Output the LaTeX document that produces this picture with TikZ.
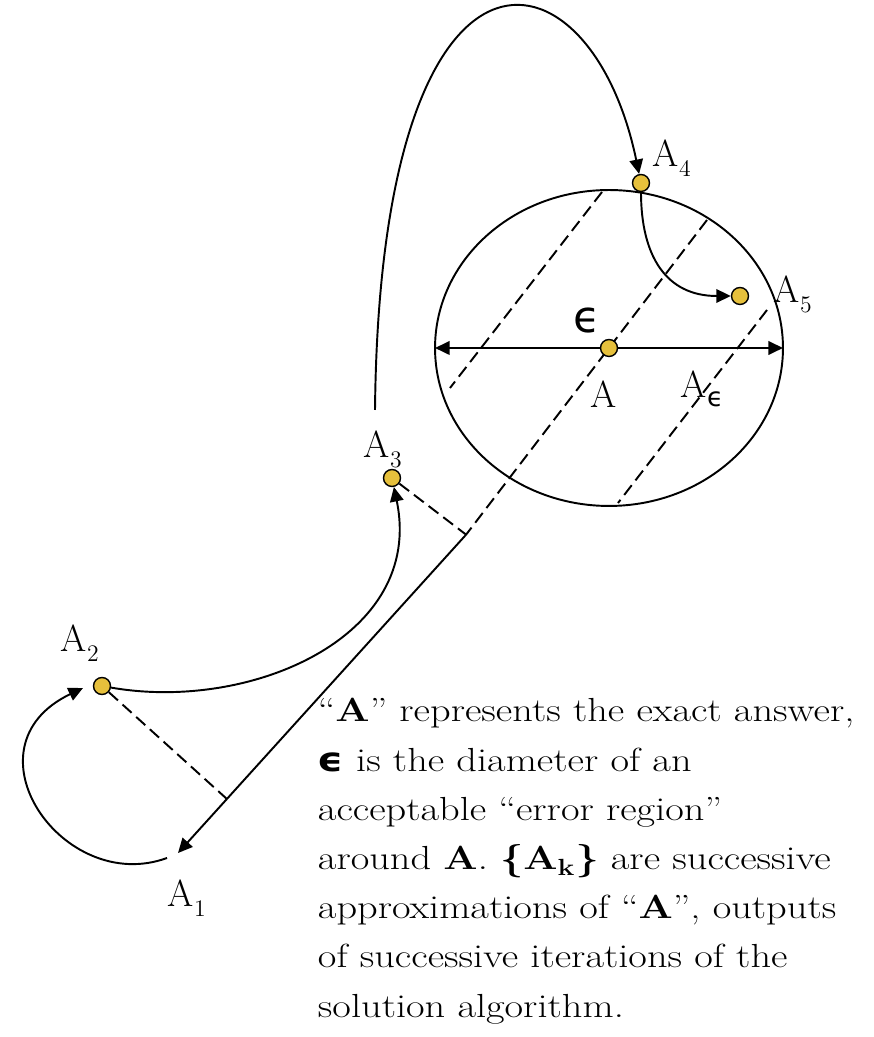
\documentclass[tikz,border=0pt]{standalone}
\usepackage{fontspec}
\usepackage{graphicx}
\usetikzlibrary{arrows.meta}
\usetikzlibrary{shapes.geometric}
\usetikzlibrary{positioning}
\usetikzlibrary{calc}

\newfontfamily\epsfont{DejaVu Sans}
\definecolor{dotgold}{RGB}{230,192,60}
\newcommand{\lowsub}[1]{\raisebox{-0.2cm}{\fontsize{13.5}{13.5}\selectfont #1}}

\begin{document}
\begin{tikzpicture}[x=0.02cm, y=0.02cm, line width=1.1pt,
    dot/.style={circle, draw=black, line width=0.8pt, fill=dotgold, inner sep=0pt, minimum size=0.34cm},
    lbl/.style={inner sep=0pt, anchor=base west, font=\fontsize{21.5}{24}\selectfont},
    para/.style={inner sep=0pt, anchor=base west, font=\fontsize{19}{28}\selectfont},
    arr/.style={-{Triangle[length=0.29cm, width=0.27cm]}},
    dsh/.style={dash pattern=on 7pt off 3.5pt}]

        \useasboundingbox (0,0) rectangle (873,1037);

        % Points that the lines need
        \coordinate (Actr) at (609,689);
        \coordinate (M1) at (707,817);
        \coordinate (L1) at (602,845);
        \coordinate (L2) at (450,649);
        \coordinate (R1) at (767,727);
        \coordinate (R2) at (618,534);
        \coordinate (A1) at (178,184);
        \coordinate (S1) at (167,179);
        \coordinate (T2) at (83,349);
        \coordinate (S3) at (375,627);

        % Draw the error region
        \node[ellipse, draw, inner sep=0pt, outer sep=0pt, minimum width=6.96cm, minimum height=6.32cm] (region) at (Actr) {};
        \draw[dsh] (L1) -- (L2);
        \draw[dsh] (R1) -- (R2);

        % Draw the approximations
        \node[dot] (A2) at (102,351) {};
        \node[dot] (A3) at (392,559) {};
        \node[dot] (A4) at (641,854) {};
        \node[dot] (A5) at (740,741) {};

        \coordinate (F) at ($(M1)!(A3)!(Actr)$);
        \draw[dsh] (M1) -- (F);
        \draw[{Triangle[length=0.29cm, width=0.27cm]}-{Triangle[length=0.29cm, width=0.27cm]}] (region.west) -- (region.east);
        \node[dot] (A) at (Actr) {};

        % Draw the iteration steps
        \draw[arr] (F) -- (A1);
        \draw[arr] (S1) .. controls (63,141) and (-40,290) .. (T2);
        \draw[arr] (A2) .. controls (250,325) and (425,400) .. (A3);
        \draw[arr] (S3) .. controls (380,1135) and (590,1100) .. (A4);
        \draw[arr] (A4) to[out=-90, in=180, looseness=1.2] (A5);

        \draw[dsh] (A3) -- (F);
        \draw[dsh] (A2) -- ($(F)!(A2)!(A1)$);

        % Labels
        \node[lbl] (lA1) at (167,130) {A\lowsub{1}};
        \node[lbl] (lA2) at (60,385) {A\lowsub{2}};
        \node[lbl] (lA3) at (363,579) {A\lowsub{3}};
        \node[lbl] (lA4) at (652,870) {A\lowsub{4}};
        \node[lbl] (lA5) at (773,734) {A\lowsub{5}};
        \node[lbl] (lA) at (590,629) {A};
        \node[lbl] (lAeps) at (680,639) {A\raisebox{-0.18cm}{\epsfont\fontsize{15}{15}\selectfont ϵ}};
        \node[inner sep=0pt, font=\epsfont\fontsize{25}{25}\selectfont] (eps) at (587,716) {ϵ};

        % The explanation
        \node[para] (note) at (317,315) {\scalebox{1.21}[1]{%
          \begin{tabular}[t]{@{}l@{}}
          ``\textbf{A}'' represents the exact answer,\\
          {\epsfont\bfseries ϵ} is the diameter of an\\
          acceptable ``error region''\\
          around \textbf{A}. \textbf{\{A\textsubscript{k}\}} are successive\\
          approximations of ``\textbf{A}'', outputs\\
          of successive iterations of the\\
          solution algorithm.
          \end{tabular}}};
      \end{tikzpicture}
\end{document}
